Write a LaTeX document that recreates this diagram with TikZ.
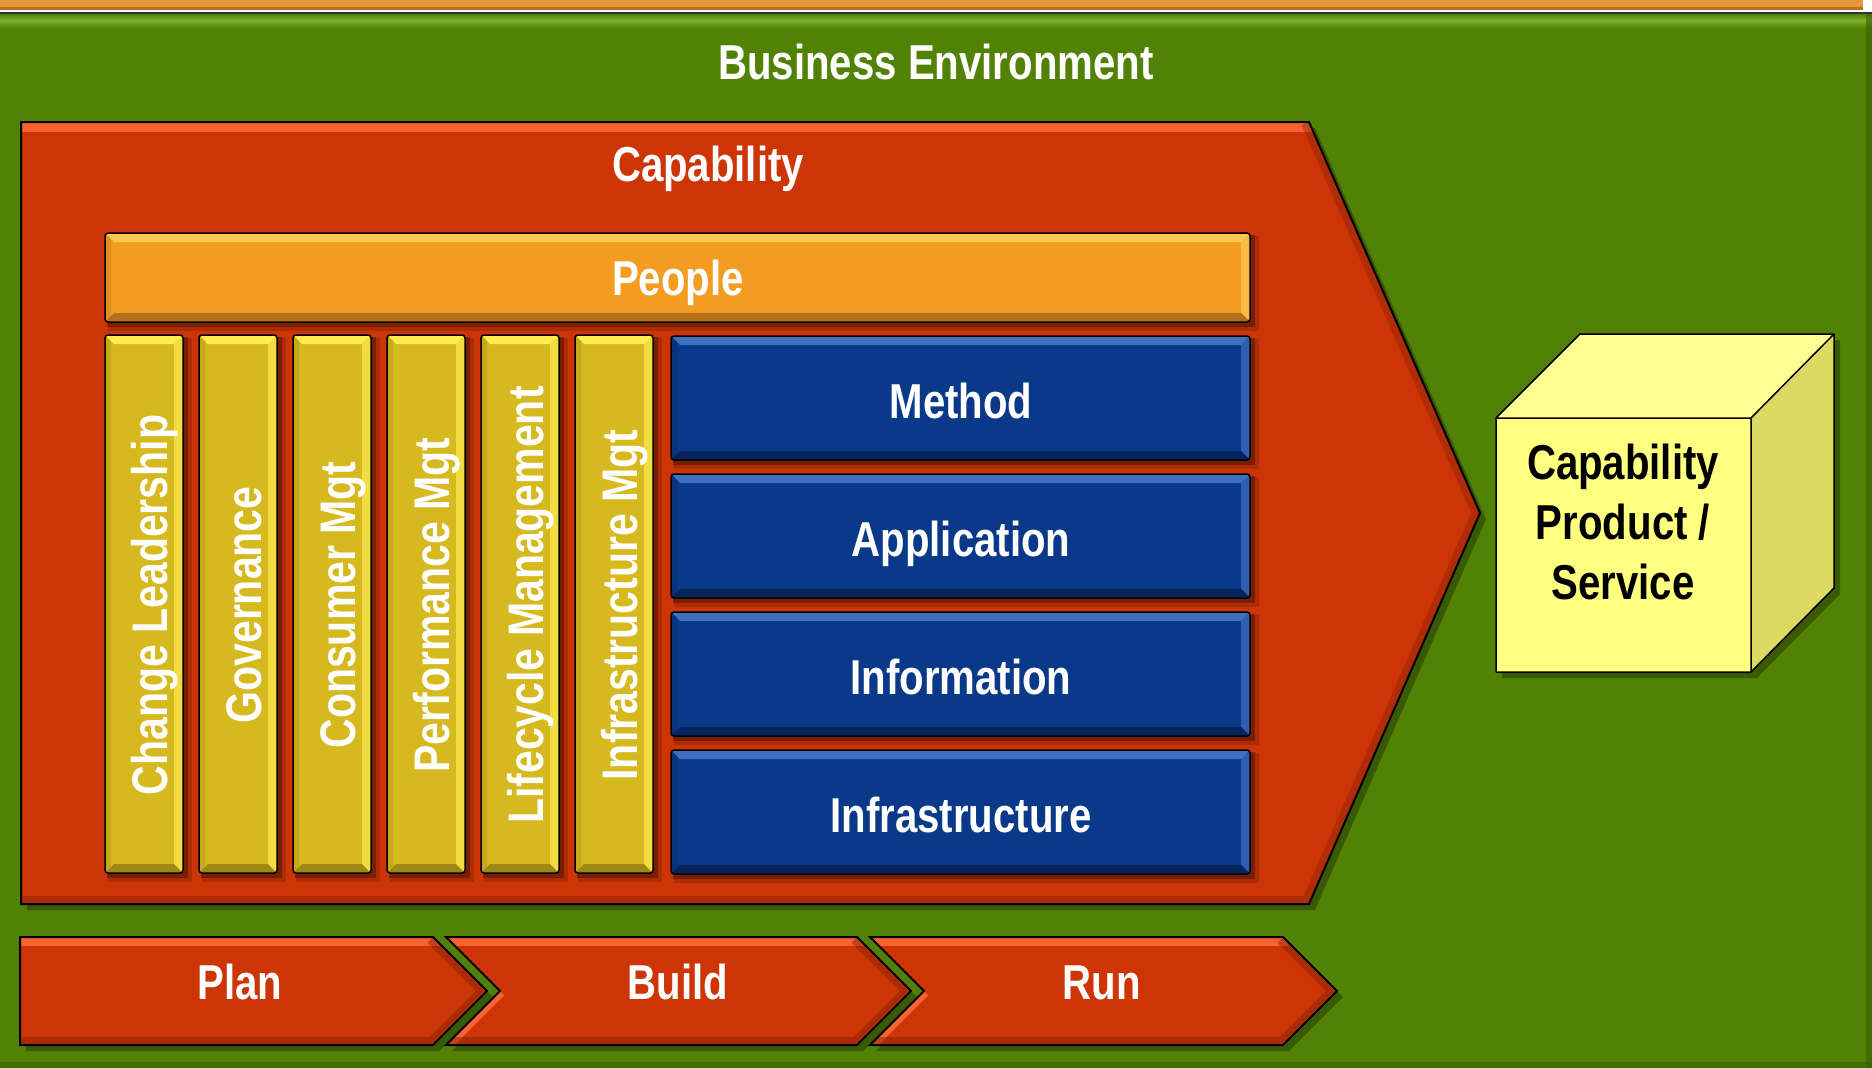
\documentclass[tikz,border=0pt]{standalone}
\usepackage{fontspec}
\newfontfamily\nar{Liberation Sans}[FakeStretch=0.82]
\definecolor{gr}{RGB}{82,130,5}
\definecolor{grL}{RGB}{125,178,45}
\definecolor{grD}{RGB}{60,95,5}
\definecolor{red}{RGB}{205,52,6}
\definecolor{redL}{RGB}{247,98,48}
\definecolor{redD}{RGB}{140,36,8}
\definecolor{peo}{RGB}{242,156,34}
\definecolor{peoL}{RGB}{255,200,80}
\definecolor{peoD}{RGB}{165,100,25}
\definecolor{yel}{RGB}{213,185,30}
\definecolor{yelL}{RGB}{255,236,80}
\definecolor{yelD}{RGB}{145,125,20}
\definecolor{blu}{RGB}{10,57,137}
\definecolor{bluL}{RGB}{62,112,192}
\definecolor{bluD}{RGB}{5,30,80}
\definecolor{cubF}{RGB}{255,255,128}
\definecolor{cubT}{RGB}{255,255,150}
\definecolor{cubS}{RGB}{220,218,98}
\definecolor{topor}{RGB}{232,150,60}
\definecolor{toporD}{RGB}{190,110,30}
\newcommand{\bevrect}[5]{%
  \fill[black,opacity=.15] ({#1+3},{#2+3}) rectangle ({#3+9},{#4+9});
  \fill[black,opacity=.3] ({#1+2},{#2+2}) rectangle ({#3+5},{#4+5});
  \begin{scope}
    \clip[rounded corners=3] (#1,#2) rectangle (#3,#4);
    \fill[#5] (#1,#2) rectangle (#3,#4);
    \fill[#5L] (#1,#2) -- (#3,#2) -- ({#3-9},{#2+9}) -- ({#1+9},{#2+9}) -- cycle;
    \fill[#5L,opacity=.7] (#3,#2) -- (#3,#4) -- ({#3-9},{#4-9}) -- ({#3-9},{#2+9}) -- cycle;
    \fill[#5D,opacity=.8] (#1,#4) -- (#3,#4) -- ({#3-9},{#4-9}) -- ({#1+9},{#4-9}) -- cycle;
    \fill[#5D,opacity=.25] (#1,#2) -- ({#1+6},{#2+6}) -- ({#1+6},{#4-6}) -- (#1,#4) -- cycle;
  \end{scope}
  \draw[black,line width=1.5,rounded corners=3] (#1,#2) rectangle (#3,#4);
}
\tikzset{
  lab/.style={text=white,font=\nar\bfseries\fontsize{49}{58}\selectfont,anchor=base,inner sep=0pt},
  vlab/.style={text=white,font=\nar\bfseries\fontsize{50}{58}\selectfont,anchor=base,inner sep=0pt,rotate=90},
  outl/.style={draw=black,line width=2pt,line join=miter},
}
\begin{document}
\begin{tikzpicture}[x=1pt,y={(0,-1pt)}]
\useasboundingbox (0,0) rectangle (1872,1068);
\fill[white] (0,0) rectangle (1872,1068);
% top orange band
\fill[topor] (0,0) rectangle (1863,10);
\fill[toporD] (0,7) rectangle (1863,10);
\fill[black!80] (0,12) rectangle (1872,13.5);
% green environment
\fill[gr] (0,13.5) rectangle (1872,1068);
\shade[top color=gr, bottom color=grL] (0,14) rectangle (1872,20);
\shade[top color=grL, bottom color=gr] (0,20) rectangle (1872,28);
\fill[grD,opacity=.6] (1866,13.5) rectangle (1872,1068);
\fill[grD,opacity=.6] (0,1062) rectangle (1872,1068);
\node[lab] (benv) at (936,79) {Business Environment};

% capability pentagon
\fill[black,opacity=.3] (27,128) -- (1315,128) -- (1486,519) -- (1315,910) -- (27,910) -- cycle;
\begin{scope}
  \clip (21,122) -- (1309,122) -- (1480,513) -- (1309,904) -- (21,904) -- cycle;
  \fill[red] (21,122) rectangle (1480,904);
  \fill[redL] (21,122) rectangle (1330,132);
  \draw[redD,opacity=.45,line width=16] (1309,122) -- (1480,513) -- (1309,904) -- (21,904);
\end{scope}
\draw[outl] (21,122) -- (1309,122) -- (1480,513) -- (1309,904) -- (21,904) -- cycle;
\node[lab] (cap) at (708,181) {Capability};

% people
\bevrect{105}{233}{1250}{322}{peo}
\node[lab] (people) at (678,295) {People};

% vertical bars
\bevrect{105}{335}{183}{873}{yel}
\bevrect{199}{335}{277}{873}{yel}
\bevrect{293}{335}{371}{873}{yel}
\bevrect{387}{335}{465}{873}{yel}
\bevrect{481}{335}{559}{873}{yel}
\bevrect{575}{335}{653}{873}{yel}
\node[vlab] (cl) at (167,605) {Change Leadership};
\node[vlab] (gov) at (261,605) {Governance};
\node[vlab] (cons) at (355,605) {Consumer Mgt};
\node[vlab] (perf) at (449,605) {Performance Mgt};
\node[vlab] (life) at (543,605) {Lifecycle Management};
\node[vlab] (infm) at (637,605) {Infrastructure Mgt};

% blue boxes
\bevrect{671}{336}{1250}{460}{blu}
\bevrect{671}{474}{1250}{598}{blu}
\bevrect{671}{612}{1250}{736}{blu}
\bevrect{671}{750}{1250}{874}{blu}
\node[lab] (method) at (961,418) {Method};
\node[lab] (appl) at (961,556) {Application};
\node[lab] (info) at (961,694) {Information};
\node[lab] (infra) at (961,832) {Infrastructure};

% cube
\fill[black,opacity=.3] (1502,424) -- (1586,340) -- (1840,340) -- (1840,594) -- (1757,678) -- (1502,678) -- cycle;
\fill[cubT] (1496,418) -- (1580,334) -- (1834,334) -- (1751,418) -- cycle;
\fill[cubS] (1751,418) -- (1834,334) -- (1834,588) -- (1751,672) -- cycle;
\fill[cubF] (1496,418) rectangle (1751,672);
\draw[black,line width=1.5,line join=round] (1496,418) -- (1580,334) -- (1834,334) -- (1834,588) -- (1751,672) -- (1496,672) -- cycle
  (1496,418) -- (1751,418) -- (1834,334) (1751,418) -- (1751,672);
\node[font=\nar\bfseries\fontsize{49}{60}\selectfont,align=center,inner sep=0pt,text=black] (cps) at (1623,522) {Capability\\Product /\\Service};

% chevrons
\fill[black,opacity=.3] (26,943) -- (439,943) -- (493,997) -- (439,1051) -- (26,1051) -- cycle;
\fill[black,opacity=.3] (452,943) -- (863,943) -- (917,997) -- (863,1051) -- (452,1051) -- (506,997) -- cycle;
\fill[black,opacity=.3] (876,943) -- (1289,943) -- (1343,997) -- (1289,1051) -- (876,1051) -- (930,997) -- cycle;
\begin{scope}
  \clip (20,937) -- (433,937) -- (487,991) -- (433,1045) -- (20,1045) -- cycle;
  \fill[red] (20,937) rectangle (490,1045);
  \fill[redL] (20,937) rectangle (445,946);
  \draw[redD,opacity=.5,line width=16] (433,937) -- (487,991) -- (433,1045) -- (20,1045);
\end{scope}
\draw[outl] (20,937) -- (433,937) -- (487,991) -- (433,1045) -- (20,1045) -- cycle;
\begin{scope}
  \clip (446,937) -- (857,937) -- (911,991) -- (857,1045) -- (446,1045) -- (500,991) -- cycle;
  \fill[red] (446,937) rectangle (911,1045);
  \fill[redL] (446,937) rectangle (870,946);
  \draw[redL,line width=12] (500,991) -- (446,1045);
  \draw[redD,opacity=.5,line width=16] (857,937) -- (911,991) -- (857,1045) -- (446,1045);
\end{scope}
\draw[outl] (446,937) -- (857,937) -- (911,991) -- (857,1045) -- (446,1045) -- (500,991) -- cycle;
\begin{scope}
  \clip (870,937) -- (1283,937) -- (1337,991) -- (1283,1045) -- (870,1045) -- (924,991) -- cycle;
  \fill[red] (870,937) rectangle (1337,1045);
  \fill[redL] (870,937) rectangle (1295,946);
  \draw[redL,line width=12] (924,991) -- (870,1045);
  \draw[redD,opacity=.5,line width=16] (1283,937) -- (1337,991) -- (1283,1045) -- (870,1045);
\end{scope}
\draw[outl] (870,937) -- (1283,937) -- (1337,991) -- (1283,1045) -- (870,1045) -- (924,991) -- cycle;
\node[lab] (plan) at (240,999) {Plan};
\node[lab] (build) at (678,999) {Build};
\node[lab] (run) at (1102,999) {Run};
\end{tikzpicture}
\end{document}
